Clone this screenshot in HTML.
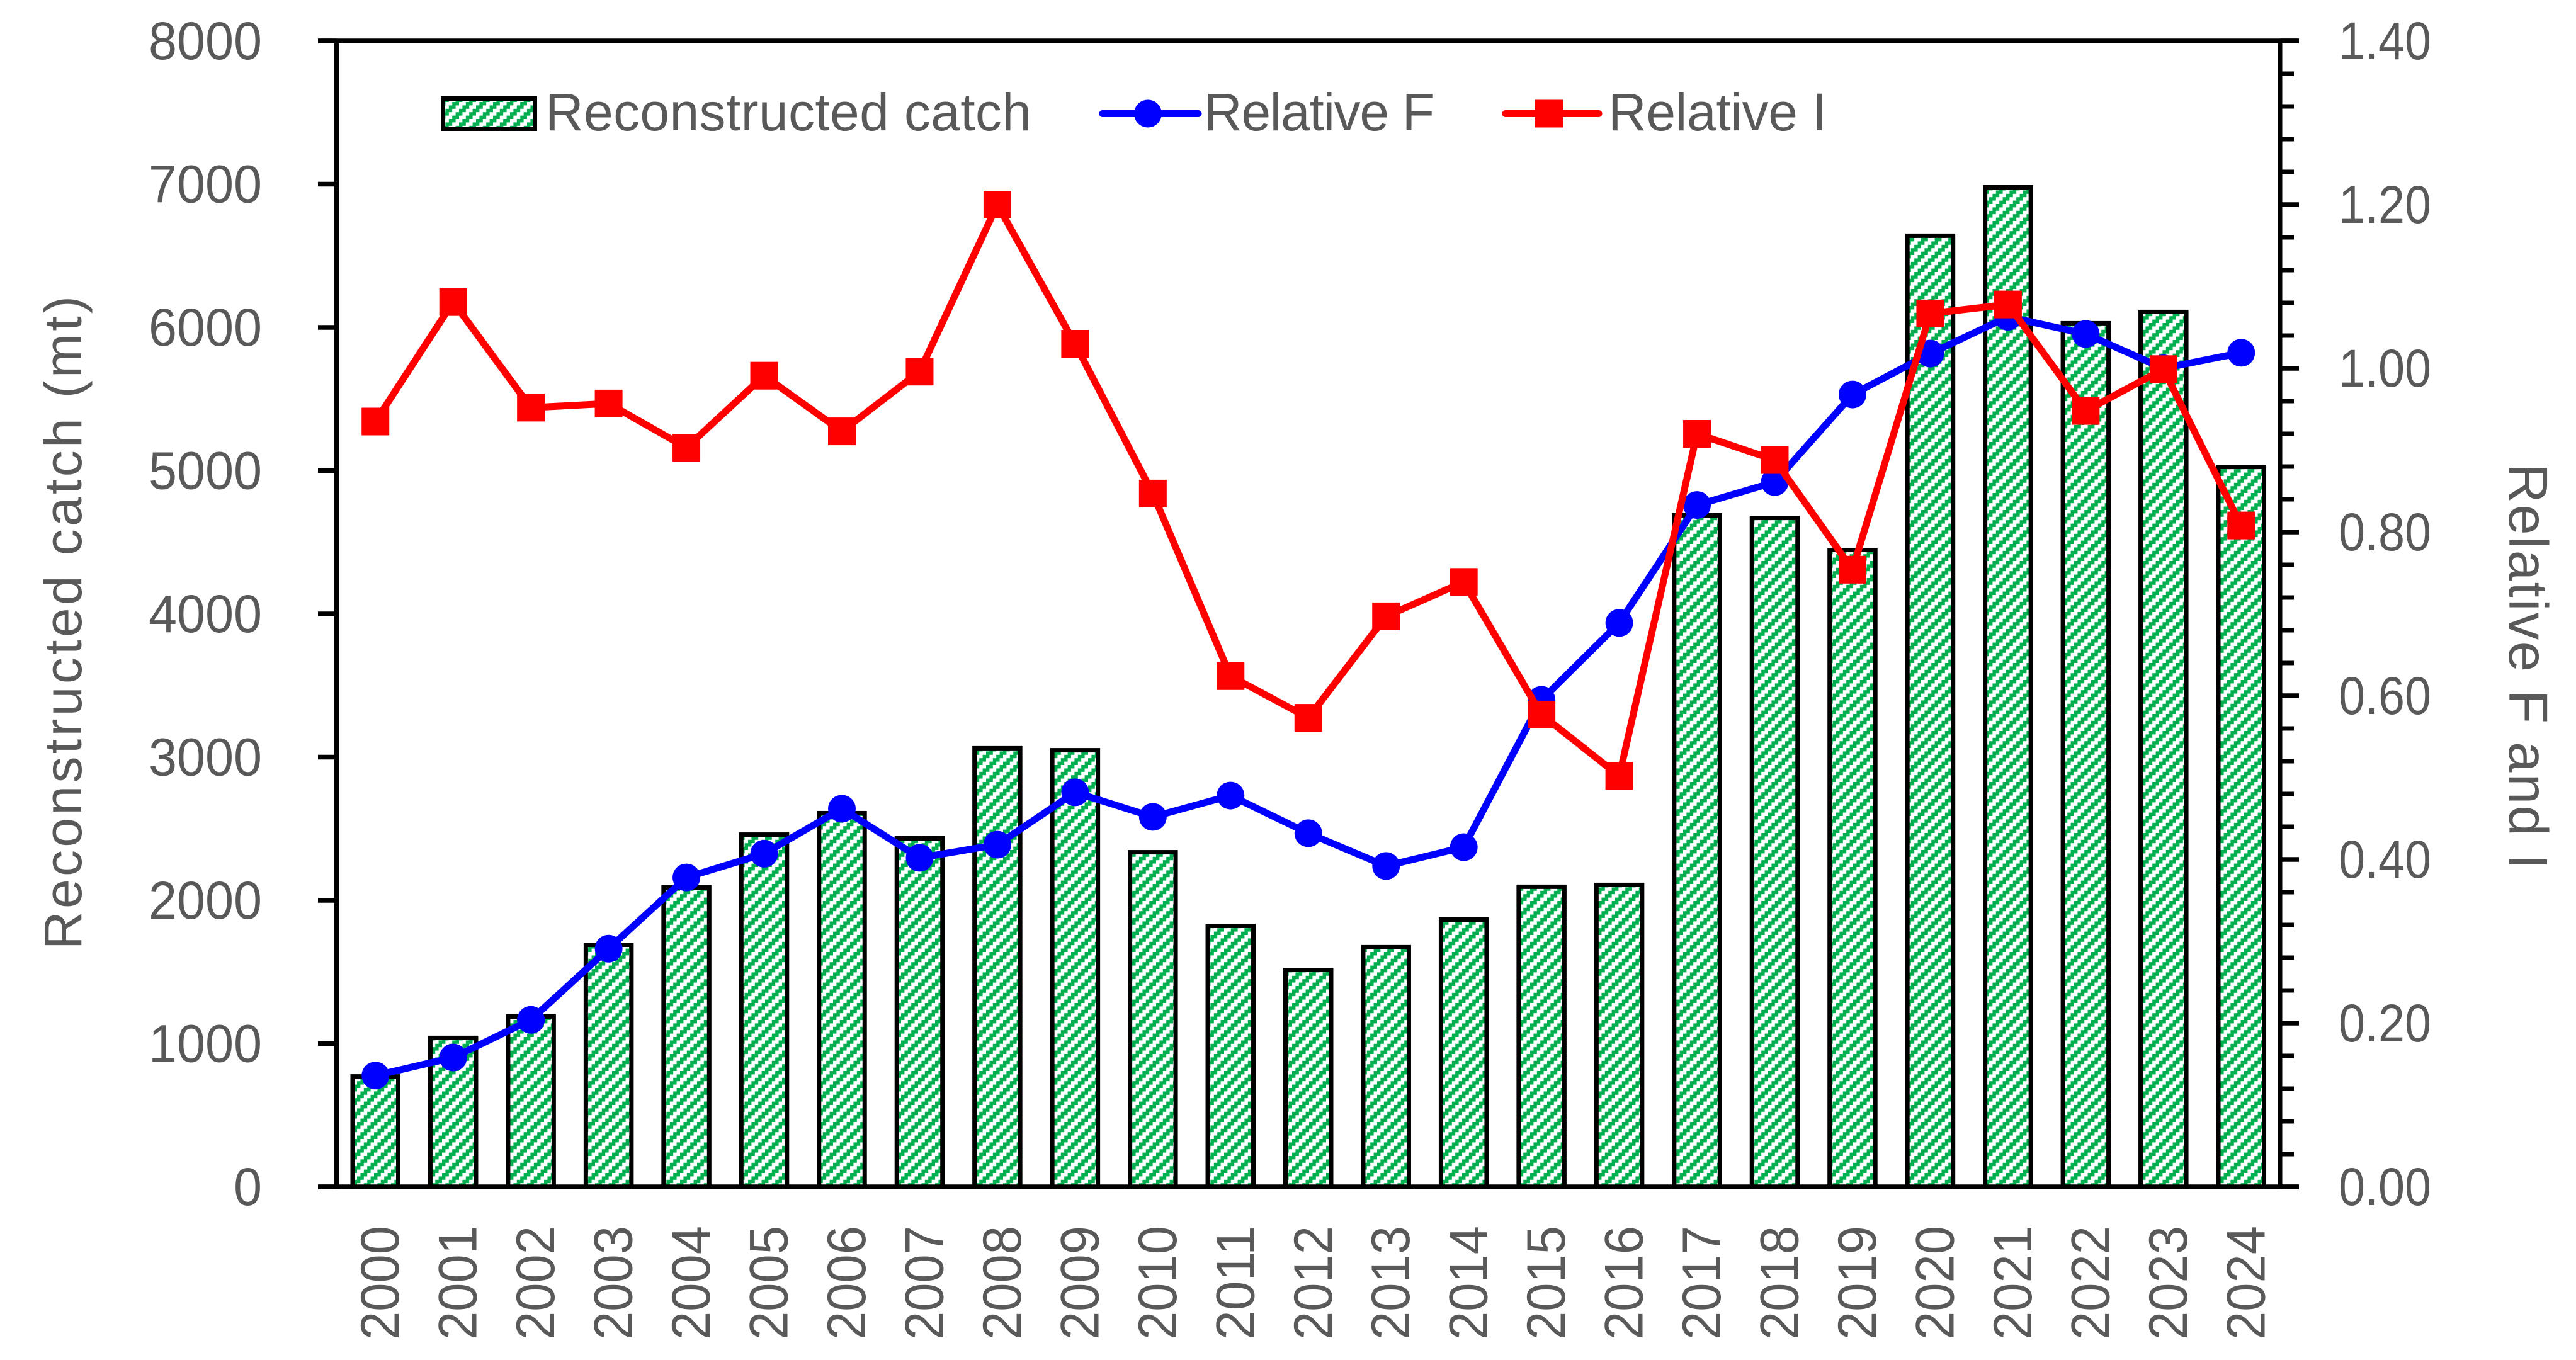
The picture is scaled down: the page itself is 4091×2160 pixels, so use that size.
<!DOCTYPE html>
<html lang="en">
<head>
<meta charset="utf-8">
<title>Reconstructed catch, Relative F and Relative I</title>
<style>
html,body{margin:0;padding:0;background:#fff;width:4091px;height:2160px;overflow:hidden}
svg{display:block}
text{font-family:"Liberation Sans",sans-serif;fill:#595959}
</style>
</head>
<body>
<svg id="chart" xmlns="http://www.w3.org/2000/svg" width="4091" height="2160" viewBox="0 0 4091 2160">
  <defs>
    <pattern id="hatch" width="8" height="8" patternUnits="userSpaceOnUse" patternTransform="scale(2.7)">
      <rect width="8" height="8" fill="#fff"/>
      <path fill="#00B050" shape-rendering="crispEdges" d="M6 0h2v2h-2zM0 0h2v2h-2zM4 2h4v2h-4zM2 4h4v2h-4zM0 6h4v2h-4z"/>
    </pattern>
  </defs>
  <g id="bars"></g>
  <g id="axes"></g>
  <g id="f-series"></g>
  <g id="i-series"></g>
  <g id="labels"></g>
  <text transform="translate(129,1508) rotate(-90)" font-size="84" textLength="1038" lengthAdjust="spacing">Reconstructed catch (mt)</text>
  <text transform="translate(3985,736) rotate(90)" font-size="87" textLength="645" lengthAdjust="spacing">Relative F and I</text>
  <g>
    <g>
      <rect x="703.5" y="156.5" width="146" height="48" fill="url(#hatch)" stroke="#000" stroke-width="7"/>
      <text x="866" y="207" font-size="84" textLength="772" lengthAdjust="spacing">Reconstructed catch</text>
    </g>
    <g>
      <line x1="1751" y1="180.5" x2="1903" y2="180.5" stroke="#0000FF" stroke-width="11" stroke-linecap="round"/>
      <circle cx="1823" cy="180.5" r="22" fill="#0000FF"/>
      <text x="1912" y="207" font-size="84" textLength="366" lengthAdjust="spacing">Relative F</text>
    </g>
    <g>
      <line x1="2391" y1="180.5" x2="2539" y2="180.5" stroke="#FF0000" stroke-width="11" stroke-linecap="round"/>
      <rect x="2438" y="158.5" width="44" height="44" fill="#FF0000"/>
      <text x="2554" y="207" font-size="84" textLength="347" lengthAdjust="spacing">Relative I</text>
    </g>
  </g>
</svg>
<script>
const years = ['2000','2001','2002','2003','2004','2005','2006','2007','2008','2009','2010','2011','2012','2013','2014','2015','2016','2017','2018','2019','2020','2021','2022','2023','2024'];
const catchValues = [771,1040,1189,1690,2090,2459,2609,2433,3062,3048,2336,1822,1514,1673,1866,2095,2108,4688,4670,4446,6640,6978,6029,6108,5026];
const relativeF = [0.136,0.158,0.204,0.291,0.378,0.407,0.462,0.402,0.418,0.482,0.452,0.478,0.432,0.392,0.415,0.595,0.689,0.833,0.861,0.968,1.018,1.063,1.042,1.000,1.019];
const relativeI = [0.935,1.081,0.952,0.957,0.903,0.991,0.923,0.996,1.200,1.030,0.847,0.624,0.573,0.697,0.739,0.577,0.502,0.920,0.888,0.754,1.067,1.078,0.948,0.999,0.808];
const leftTicks = [0,1000,2000,3000,4000,5000,6000,7000,8000];
const leftTickLabels = ['0','1000','2000','3000','4000','5000','6000','7000','8000'];
const rightTicks = [0,0.2,0.4,0.6,0.8,1.0,1.2,1.4];
const rightTickLabels = ['0.00','0.20','0.40','0.60','0.80','1.00','1.20','1.40'];

const NS = 'http://www.w3.org/2000/svg';
const plotLeft = 534.5, plotRight = 3621, plotTop = 65, plotBottom = 1885;
const xCenter = i => plotLeft + (plotRight - plotLeft) * (i + 0.5) / years.length;
const yLeft = v => plotBottom - (plotBottom - plotTop) * v / 8000;
const yRight = v => plotBottom - (plotBottom - plotTop) * v / 1.4;

function mk(parent, tag, attrs) {
  const el = document.createElementNS(NS, tag);
  for (const k in attrs) el.setAttribute(k, attrs[k]);
  document.getElementById(parent).appendChild(el);
  return el;
}

// Bars
catchValues.forEach((v, i) => {
  const top = yLeft(v);
  const bar = mk('bars', 'rect', {x: xCenter(i) - 36.25, y: top, width: 72.5, height: plotBottom - top, fill: 'url(#hatch)', stroke: '#000', 'stroke-width': 7});
  
  
});

// Axes frame
const frameTop = mk('axes', 'line', {x1: 505, y1: plotTop, x2: 3651, y2: plotTop, stroke: '#000', 'stroke-width': 7.5});


const frameBottom = mk('axes', 'line', {x1: 505, y1: plotBottom, x2: 3651, y2: plotBottom, stroke: '#000', 'stroke-width': 7.5});


const frameLeft = mk('axes', 'line', {x1: plotLeft, y1: plotTop, x2: plotLeft, y2: plotBottom, stroke: '#000', 'stroke-width': 7});


const frameRight = mk('axes', 'line', {x1: plotRight, y1: plotTop, x2: plotRight, y2: plotBottom, stroke: '#000', 'stroke-width': 7});



// Left ticks and labels
leftTicks.forEach((v, i) => {
  const y = yLeft(v);
  const tick = mk('axes', 'line', {x1: 505, y1: y, x2: plotLeft, y2: y, stroke: '#000', 'stroke-width': 7.5});
  
  
  const s = leftTickLabels[i];
  const t = mk('labels', 'text', {x: 416, y: y + 29, 'font-size': 84, 'text-anchor': 'end', textLength: s.length * 45, lengthAdjust: 'spacingAndGlyphs'});
  t.textContent = s;
  
  
});

// Right ticks (major + four minor per interval) and labels
rightTicks.forEach((v, i) => {
  const y = yRight(v);
  const tick = mk('axes', 'line', {x1: plotRight, y1: y, x2: 3651, y2: y, stroke: '#000', 'stroke-width': 7.5});
  
  
  const t = mk('labels', 'text', {x: 3861, y: y + 29, 'font-size': 84, 'text-anchor': 'end', textLength: 147, lengthAdjust: 'spacingAndGlyphs'});
  t.textContent = rightTickLabels[i];
  
  
  if (i < rightTicks.length - 1) {
    for (let k = 1; k < 5; k++) {
      const my = yRight(v + 0.04 * k);
      const minor = mk('axes', 'line', {x1: plotRight, y1: my, x2: 3643, y2: my, stroke: '#000', 'stroke-width': 7});
      
      
    }
  }
});

// X labels
years.forEach((yr, i) => {
  const bx = xCenter(i) + 37;
  const t = mk('labels', 'text', {transform: 'translate(' + bx + ',2128) rotate(-90)', 'font-size': 86, textLength: 181, lengthAdjust: 'spacingAndGlyphs'});
  t.textContent = yr;
  
  
});

// Relative F
const fPts = relativeF.map((v, i) => xCenter(i) + ',' + yRight(v)).join(' ');
const fLine = mk('f-series', 'polyline', {points: fPts, fill: 'none', stroke: '#0000FF', 'stroke-width': 11, 'stroke-linejoin': 'round'});


relativeF.forEach((v, i) => {
  const c = mk('f-series', 'circle', {cx: xCenter(i), cy: yRight(v), r: 22, fill: '#0000FF'});
  
  
});

// Relative I
const iPts = relativeI.map((v, i) => xCenter(i) + ',' + yRight(v)).join(' ');
const iLine = mk('i-series', 'polyline', {points: iPts, fill: 'none', stroke: '#FF0000', 'stroke-width': 11, 'stroke-linejoin': 'round'});


relativeI.forEach((v, i) => {
  const r = mk('i-series', 'rect', {x: xCenter(i) - 22, y: yRight(v) - 22, width: 44, height: 44, fill: '#FF0000'});
  
  
});
</script>
</body>
</html>
